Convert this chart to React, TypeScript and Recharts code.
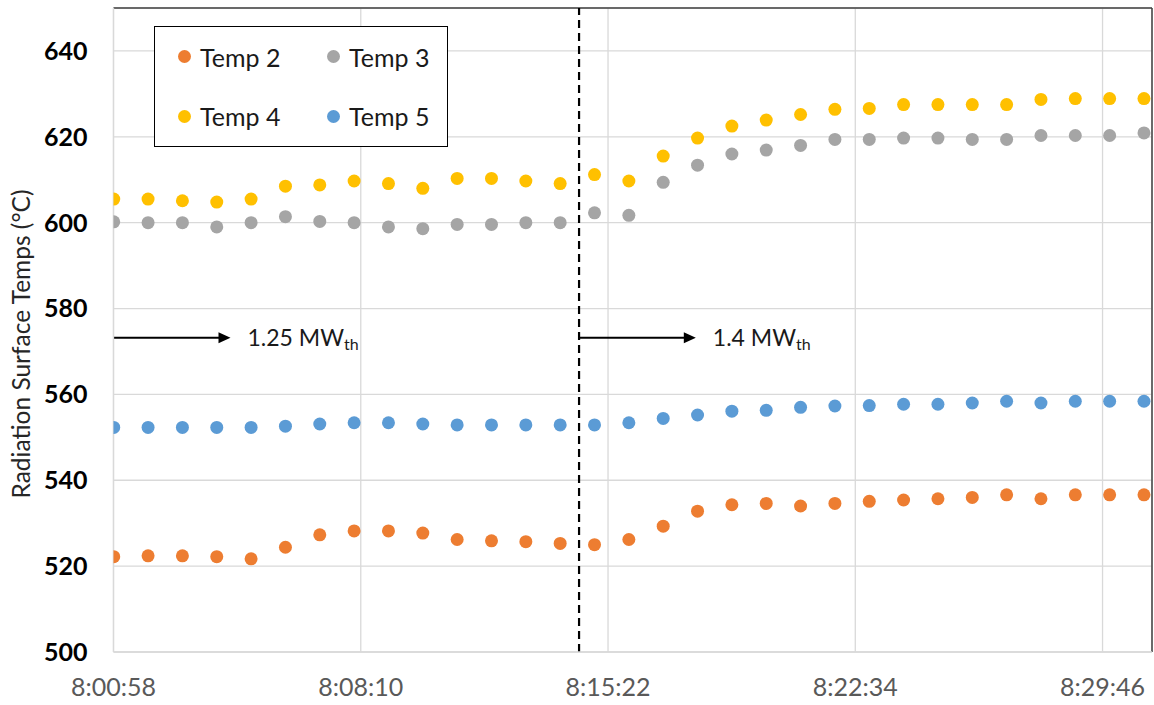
import React from 'react';
import {
  ScatterChart,
  Scatter,
  XAxis,
  YAxis,
  CartesianGrid,
  ReferenceLine
} from 'recharts';

// sample times, one reading a minute
const times = [
  '8:00:58', '8:01:58', '8:02:58', '8:03:58', '8:04:58', '8:05:58', '8:06:58', '8:07:58',
  '8:08:58', '8:09:58', '8:10:58', '8:11:58', '8:12:58', '8:13:58', '8:14:58', '8:15:58',
  '8:16:58', '8:17:58', '8:18:58', '8:19:58', '8:20:58', '8:21:58', '8:22:58', '8:23:58',
  '8:24:58', '8:25:58', '8:26:58', '8:27:58', '8:28:58', '8:29:58', '8:30:58'
];

const temp2 = [
  522.2, 522.4, 522.4, 522.2, 521.7, 524.4, 527.3, 528.2, 528.2, 527.7, 526.2, 525.9, 525.7, 525.3, 525.0, 526.2,
  529.3, 532.8, 534.3, 534.6, 534.0, 534.6, 535.1, 535.4, 535.7, 536.0, 536.6, 535.7, 536.6, 536.6, 536.6
];
const temp3 = [
  600.2, 600.0, 600.0, 599.0, 600.0, 601.4, 600.3, 600.0, 599.0, 598.6, 599.6, 599.6, 600.0, 600.0, 602.3, 601.7,
  609.4, 613.4, 616.0, 616.9, 618.0, 619.4, 619.4, 619.7, 619.7, 619.4, 619.4, 620.3, 620.3, 620.3, 620.9
];
const temp4 = [
  605.5, 605.5, 605.1, 604.8, 605.5, 608.5, 608.8, 609.7, 609.1, 608.0, 610.3, 610.3, 609.7, 609.1, 611.2, 609.7,
  615.5, 619.7, 622.5, 623.9, 625.2, 626.4, 626.6, 627.5, 627.5, 627.5, 627.5, 628.7, 628.9, 628.9, 628.9
];
const temp5 = [
  552.3, 552.3, 552.3, 552.3, 552.3, 552.6, 553.1, 553.4, 553.4, 553.1, 552.9, 552.9, 552.9, 552.9, 552.9, 553.4,
  554.4, 555.2, 556.1, 556.3, 557.0, 557.3, 557.4, 557.7, 557.7, 558.0, 558.4, 558.0, 558.4, 558.4, 558.4
];

const xTickLabels = ['8:00:58', '8:08:10', '8:15:22', '8:22:34', '8:29:46'];
const yTicks = [500, 520, 540, 560, 580, 600, 620, 640];

// power step annotation
const stepTime = '8:14:31';
const arrowLevel = 573.2;
const arrowSpanSec = 204;
const steps = [
  { start: '8:00:58', value: '1.25' },
  { start: stepTime, value: '1.4' }
];

const toSec = (t: string) => {
  const [h, m, s] = t.split(':').map(Number);
  return h * 3600 + m * 60 + s;
};

const fmtTime = (v: number) => {
  const s = Math.round(v);
  const h = Math.floor(s / 3600);
  const m = Math.floor((s % 3600) / 60);
  const sec = s % 60;
  return `${h}:${String(m).padStart(2, '0')}:${String(sec).padStart(2, '0')}`;
};

// Excel axis: 0.334 to 0.355 day, major unit 0.005 day
const xMin = 0.334 * 86400;
const xMax = 0.355 * 86400;
const xTicks = xTickLabels.map((_, i) => xMin + i * 432);

const series = [
  { name: 'Temp 2', values: temp2, color: '#ED7D31' },
  { name: 'Temp 3', values: temp3, color: '#A5A5A5' },
  { name: 'Temp 4', values: temp4, color: '#FFC000' },
  { name: 'Temp 5', values: temp5, color: '#5B9BD5' }
];

const FONT = 'Lato, "Open Sans", sans-serif';

const Dot = (color: string) => (props: any) => (
  <circle cx={props.cx} cy={props.cy} r={6.5} fill={color} />
);

const Arrow = (value: string) => (props: any) => {
  const { x1, y1, x2 } = props;
  return (
    <g>
      <line x1={x1} y1={y1} x2={x2 - 10} y2={y1} stroke="#000" strokeWidth={2} />
      <polygon points={`${x2},${y1} ${x2 - 12},${y1 - 5.5} ${x2 - 12},${y1 + 5.5}`} fill="#000" />
      <text x={x2 + 17} y={y1 + 8} fontSize={23} fill="#1a1a1a" fontFamily={FONT}>
        {value} MW
        <tspan fontSize={16} dy={4}>th</tspan>
      </text>
    </g>
  );
};

const LegendBox = () => (
  <div
    style={{
      position: 'absolute',
      left: 154,
      top: 26,
      width: 292,
      height: 119,
      border: '1px solid #000',
      background: '#fff',
      display: 'grid',
      gridTemplateColumns: '149px 143px',
      gridTemplateRows: '59px 60px',
      fontFamily: FONT,
      fontSize: 25,
      color: '#1a1a1a'
    }}
  >
    {series.map(s => (
      <div key={s.name} style={{ display: 'flex', alignItems: 'center', paddingLeft: 23 }}>
        <span
          style={{ width: 13, height: 13, borderRadius: '50%', background: s.color, marginRight: 9, display: 'inline-block' }}
        />
        {s.name}
      </div>
    ))}
  </div>
);

const YTitle = (props: any) => {
  const { viewBox } = props;
  const cy = viewBox.y + viewBox.height / 2 + 14;
  const cx = viewBox.x + 20;
  return (
    <text
      x={cx}
      y={cy}
      transform={`rotate(-90, ${cx}, ${cy})`}
      textAnchor="middle"
      dominantBaseline="central"
      fontSize={24.5}
      fill="#262626"
      fontFamily={FONT}
    >
      Radiation Surface Temps (°C)
    </text>
  );
};

export default function App() {
  const data = series.map(s => ({
    ...s,
    points: times.map((t, i) => ({ x: toSec(t), y: s.values[i] }))
  }));

  return (
    <div style={{ position: 'absolute', left: 0, top: 0, width: 1154, height: 705, background: '#fff' }}>
      <ScatterChart width={1154} height={705} margin={{ top: 8, right: 2, bottom: 23, left: 0 }}>
        <CartesianGrid stroke="#d9d9d9" strokeWidth={1.3} />
        <XAxis
          type="number"
          dataKey="x"
          domain={[xMin, xMax]}
          ticks={xTicks}
          tickFormatter={fmtTime}
          allowDataOverflow
          height={30}
          axisLine={{ stroke: '#d9d9d9', strokeWidth: 1.3 }}
          tickLine={false}
          tickSize={0}
          tickMargin={26}
          tick={{ fill: '#595959', fontSize: 25, fontFamily: FONT }}
        />
        <YAxis
          type="number"
          dataKey="y"
          domain={[500, 650]}
          ticks={yTicks}
          width={113.5}
          axisLine={{ stroke: '#d9d9d9', strokeWidth: 1.3 }}
          tickLine={false}
          tickSize={0}
          tickMargin={26}
          tick={{ fill: '#000', fontSize: 25, fontWeight: 700, fontFamily: FONT }}
          label={<YTitle />}
        />
        <ReferenceLine y={650} stroke="#404040" strokeWidth={1.5} />
        <ReferenceLine x={xMax} stroke="#404040" strokeWidth={1.5} />
        <ReferenceLine x={toSec(stepTime)} stroke="#000" strokeWidth={2.2} strokeDasharray="8 5" />
        {steps.map(st => (
          <ReferenceLine
            key={st.value}
            segment={[
              { x: toSec(st.start), y: arrowLevel },
              { x: toSec(st.start) + arrowSpanSec, y: arrowLevel }
            ]}
            shape={Arrow(st.value)}
          />
        ))}
        {data.map(s => (
          <Scatter
            key={s.name}
            name={s.name}
            data={s.points}
            fill={s.color}
            shape={Dot(s.color)}
            isAnimationActive={false}
          />
        ))}
      </ScatterChart>
      <LegendBox />
    </div>
  );
}
